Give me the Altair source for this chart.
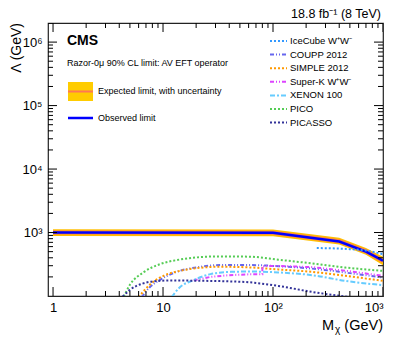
import altair as alt
import pandas as pd

# ---------------- data ----------------
obs_mass = [1, 100, 400, 700, 1000]
obs_lambda = [1000, 990, 720, 500, 360]
exp_lambda = [1000, 990, 730, 505, 355]
exp_lo = [885, 875, 645, 445, 305]
exp_hi = [1125, 1115, 825, 570, 415]

icecube_mass = [250, 500, 700, 1000]
icecube_lambda = [570, 547, 520, 455]
coupp_mass = [6.4, 7.5, 9.4, 13.4, 20, 33, 62, 112, 226, 454, 1000]
coupp_lambda = [96, 135, 180, 241, 282, 307, 307, 295, 270, 234, 195]
simple_mass = [6.0, 7.66, 10.1, 13.4, 20.4, 33, 62, 112, 226, 454, 1000]
simple_lambda = [96, 153, 208, 243, 275, 289, 282, 262, 240, 208, 173]
superk_mass = [19, 27, 40, 62, 80, 80, 112, 226, 454, 1000]
superk_lambda = [177, 200, 213, 220, 220, 295, 298, 285, 250, 208]
xenon_mass = [12, 14, 18.8, 27, 41, 62, 112, 226, 454, 1000]
xenon_lambda = [96, 134, 177, 221, 240, 243, 235, 213, 173, 148]
pico_mass = [4.4, 5, 6.6, 9.4, 13.4, 20.4, 33, 62, 112, 226, 454, 1000]
pico_lambda = [98, 150, 234, 318, 369, 406, 421, 416, 373, 326, 281, 249]
picasso_mass = [4.3, 5, 6.6, 8.2, 12, 20, 40, 62, 112, 226, 480]
picasso_lambda = [98, 125, 158, 170, 176, 174, 170, 164, 144, 116, 97]

legend_names = ["IceCube W\u207aW\u207b", "COUPP 2012", "SIMPLE 2012", "Super-K W\u207aW\u207b",
                "XENON 100", "PICO", "PICASSO"]

x_major = [1, 10, 100, 1000]
x_minor = [k * 10 ** e for e in range(0, 3) for k in range(2, 10)]
y_major = [1000, 10000, 100000, 1000000]
y_minor = [k * 10 ** e for e in range(2, 6) for k in range(2, 10)] + [2000000]

W, H = 335, 273
FONT = "Liberation Sans"

xscale = alt.Scale(type="log", domain=[0.9, 1000], nice=False)
yscale = alt.Scale(type="log", domain=[100, 2000000], nice=False)
xaxis = alt.Axis(values=x_major, ticks=False, domain=False, grid=False, title=None,
                 labelFont=FONT, labelFontSize=13, labelColor="black", labelPadding=5,
                 labelExpr="datum.value == 1 ? '1' : datum.value == 10 ? '10' : datum.value == 100 ? '10\u00b2' : '10\u00b3'")
yaxis = alt.Axis(values=y_major, ticks=False, domain=False, grid=False, title=None,
                 labelFont=FONT, labelFontSize=13, labelColor="black", labelPadding=6,
                 labelExpr="datum.value == 1000 ? '10\u00b3' : datum.value == 10000 ? '10\u2074' : datum.value == 100000 ? '10\u2075' : '10\u2076'")

X = alt.X("m:Q", scale=xscale, axis=xaxis)
Y = alt.Y("l:Q", scale=yscale, axis=yaxis)

dummy = pd.DataFrame({"a": [0]})
layers = []

# band, expected, observed
band_df = pd.DataFrame({"m": obs_mass, "l": exp_lo, "l2": exp_hi})
layers.append(alt.Chart(band_df).mark_area(color="#ffbf00", clip=True).encode(x=X, y=Y, y2="l2:Q"))
exp_df = pd.DataFrame({"m": obs_mass, "l": exp_lambda})
layers.append(alt.Chart(exp_df).mark_line(color="#ff8040", strokeWidth=4, clip=True).encode(x=X, y=Y))
obs_df = pd.DataFrame({"m": obs_mass, "l": obs_lambda})
layers.append(alt.Chart(obs_df).mark_line(color="#0000ff", strokeWidth=2.5, clip=True).encode(x=X, y=Y))

styles = [
    (icecube_mass, icecube_lambda, "#3399ff", [2, 2], "monotone"),
    (coupp_mass, coupp_lambda, "#6666ee", [4, 2, 1, 2, 1, 2], "monotone"),
    (simple_mass, simple_lambda, "#ff9900", [2, 2], "monotone"),
    (superk_mass, superk_lambda, "#dd44ff", [4, 2, 1, 2, 1, 2], "linear"),
    (xenon_mass, xenon_lambda, "#66ccff", [5, 2, 2, 2], "monotone"),
    (pico_mass, pico_lambda, "#55cc55", [2, 2], "monotone"),
    (picasso_mass, picasso_lambda, "#333399", [2, 2], "monotone"),
]
for mass, lam, color, dash, interp in styles:
    df = pd.DataFrame({"m": mass, "l": lam, "i": list(range(len(mass)))})
    layers.append(alt.Chart(df).mark_line(color=color, strokeDash=dash, strokeWidth=2,
                                          clip=True, interpolate=interp)
                  .encode(x=X, y=Y, order="i:Q"))

# ticks (inside the frame, mirrored)
def yticks(vals, length):
    df = pd.DataFrame({"l": vals})
    left = alt.Chart(df).mark_rule(color="black", strokeWidth=1, clip=True).encode(
        y=Y, x=alt.value(0), x2=alt.value(length))
    right = alt.Chart(df).mark_rule(color="black", strokeWidth=1, clip=True).encode(
        y=Y, x=alt.value(W - length), x2=alt.value(W))
    return [left, right]

def xticks(vals, length):
    df = pd.DataFrame({"m": vals})
    bottom = alt.Chart(df).mark_rule(color="black", strokeWidth=1, clip=True).encode(
        x=X, y=alt.value(H), y2=alt.value(H - length))
    top = alt.Chart(df).mark_rule(color="black", strokeWidth=1, clip=True).encode(
        x=X, y=alt.value(0), y2=alt.value(length))
    return [bottom, top]

layers += yticks(y_major, 9) + yticks(y_minor, 5) + xticks(x_major, 9) + xticks(x_minor, 5)

def text(t, x, y, size=9.5, weight="normal", align="left", angle=0, baseline="middle"):
    return alt.Chart(dummy).mark_text(text=t, font=FONT, fontSize=size, fontWeight=weight,
                                      align=align, baseline=baseline, angle=angle,
                                      color="black").encode(x=alt.value(x), y=alt.value(y))

# titles
layers.append(text("18.8 fb\u207b\u00b9 (8 TeV)", W - 2, -5, size=12.5, align="right",
                   baseline="alphabetic"))
layers.append(text("CMS", 19, 18, size=14, weight="bold"))
layers.append(text("Razor-0\u03bc 90% CL limit: AV EFT operator", 19, 40, size=9))
layers.append(text("\u039b (GeV)", -31, 0, size=14, align="right", angle=270))
layers.append(text("(GeV)", W, 307, size=14.5, align="right", baseline="alphabetic"))
layers.append(text("M", 274, 307, size=14.5, baseline="alphabetic"))
layers.append(text("\u03c7", 287, 310, size=10, baseline="alphabetic"))

# left legend
layers.append(alt.Chart(dummy).mark_rect(color="#ffcc00").encode(
    x=alt.value(20), x2=alt.value(45), y=alt.value(59), y2=alt.value(78)))
layers.append(alt.Chart(dummy).mark_rule(color="#ff7755", strokeWidth=2).encode(
    x=alt.value(20), x2=alt.value(45), y=alt.value(68.5)))
layers.append(text("Expected limit, with uncertainty", 50, 67.5, size=9))
layers.append(alt.Chart(dummy).mark_rule(color="#0000ff", strokeWidth=2.5).encode(
    x=alt.value(20), x2=alt.value(45), y=alt.value(95)))
layers.append(text("Observed limit", 50, 95, size=9))

# right legend
for i, (name, st) in enumerate(zip(legend_names, styles)):
    yy = 18 + 13.6 * i
    layers.append(alt.Chart(dummy).mark_rule(color=st[2], strokeDash=st[3], strokeWidth=2).encode(
        x=alt.value(222), x2=alt.value(239), y=alt.value(yy)))
    layers.append(text(name, 242, yy, size=9.5))

chart = alt.layer(*layers).properties(
    width=W, height=H,
    autosize=alt.AutoSizeParams(type="none"),
    padding={"left": 40, "top": 15, "right": 8, "bottom": 41},
).configure_view(stroke="#222222", strokeWidth=1.2)

chart.save("out.html", embed_options={"renderer": "svg", "actions": False})
